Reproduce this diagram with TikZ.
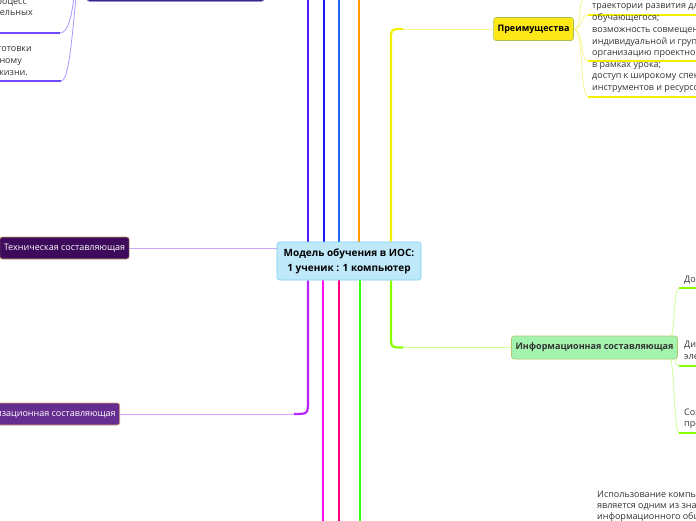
\documentclass[tikz,border=0pt]{standalone}
\usepackage{fontspec}
\setmainfont{Open Sans}
\usepackage{tikz}
\usetikzlibrary{calc,positioning,backgrounds}

\definecolor{rootfill}{HTML}{BFE8F9}
\definecolor{rootline}{HTML}{78CDEF}
\definecolor{techfill}{HTML}{3D0A5C}
\definecolor{techline}{HTML}{C8A060}
\definecolor{techB}{HTML}{C8A8F8}
\definecolor{orgfill}{HTML}{662D91}
\definecolor{orgline}{HTML}{D0A070}
\definecolor{orgA}{HTML}{B822FF}
\definecolor{orgB}{HTML}{E8A0FF}
\definecolor{profill}{HTML}{FFE818}
\definecolor{proline}{HTML}{A8C050}
\definecolor{proA}{HTML}{F2F000}
\definecolor{proB}{HTML}{F6F690}
\definecolor{infofill}{HTML}{A4F4B0}
\definecolor{infoline}{HTML}{B0C870}
\definecolor{infotext}{HTML}{333333}
\definecolor{limeA}{HTML}{88FF00}
\definecolor{limeB}{HTML}{CCFF99}
\definecolor{upfill}{HTML}{2E2384}
\definecolor{upline}{HTML}{6C5CC0}
\definecolor{upA}{HTML}{7048FF}
\definecolor{upB}{HTML}{A898FF}
\definecolor{violA}{HTML}{5018FF}
\definecolor{blueA}{HTML}{1A1AFF}
\definecolor{blueB}{HTML}{1A66FF}
\definecolor{orangeA}{HTML}{FF9900}
\definecolor{magA}{HTML}{FF10F0}
\definecolor{pinkA}{HTML}{FF0088}
\definecolor{greenA}{HTML}{33FF11}
\definecolor{leaftext}{HTML}{333333}

\newcommand{\mmfont}{\fontsize{9}{11.5}\selectfont}

\tikzset{
  topic/.style={draw, rounded corners=2.5pt, line width=0.6pt, inner xsep=4pt, inner ysep=0pt, font=\mmfont},
  leaf/.style={inner sep=0pt, font=\mmfont, text=leaftext},
  trunk/.style={line width=2.2pt},
  twig/.style={line width=0.8pt},
  uline/.style={line width=1.6pt},
}

\begin{document}
\begin{tikzpicture}[x=1pt, y=-1pt]
  \useasboundingbox (0,0) rectangle (696,520);
  \clip (0,0) rectangle (696,520);

  % main topics
  \node[topic, fill=rootfill, draw=rootline, font=\fontsize{10}{15}\selectfont\bfseries, align=center,
        minimum width=144pt, minimum height=38pt] (root) at (349,261) {Модель обучения в ИОС:\\1 ученик : 1 компьютер};
  \node[topic, fill=techfill, draw=techline, text=white, minimum width=129pt, minimum height=22pt] (tech) at (64.5,248) {Техническая составляющая};
  \node[topic, fill=orgfill, draw=orgline, text=white, minimum height=22pt, anchor=east] (org) at (120,414) {Организационная составляющая};
  \node[topic, fill=profill, draw=proline, font=\mmfont\bfseries, minimum width=79pt, minimum height=23pt] (pro) at (533.5,29) {Преимущества};
  \node[topic, fill=infofill, draw=infoline, text=infotext, font=\mmfont\bfseries, minimum width=165pt, minimum height=23pt] (info) at (594.5,347.5) {Информационная составляющая};
  \node[topic, fill=upfill, draw=upline, minimum width=177pt, minimum height=22pt, anchor=south] (upper) at (175.5,1.5) {};

  % leaves left top
  \node[leaf, anchor=base east] (l1) at (27,4.5) {процесс};
  \node[leaf, anchor=base east] (l2) at (33,15.5) {образовательных};
  \node[leaf, anchor=base east] (l3) at (32,51.5) {подготовки};
  \node[leaf, anchor=base east] (l4) at (22,63.5) {самостоятельному};
  \node[leaf, anchor=base east] (l5) at (28,75.5) {жизни.};

  % leaves of Преимущества
  \foreach \yy/\tt in {8.5/траектории развития для, 20.5/обучающегося;, 32.5/возможность совмещения,
                      44/индивидуальной и групповой, 55.5/организацию проектной, 67/в рамках урока;,
                      78.5/доступ к широкому спектру, 90/инструментов и ресурсов}
    \node[leaf, anchor=base west] at (592,\yy) {\tt};

  % leaves of the information topic
  \node[leaf, anchor=base west] (i1) at (684,282.5) {Доступ};
  \node[leaf, anchor=base west] (i2) at (684,347.5) {Дистанционное};
  \node[leaf, anchor=base west] (i3) at (684,359.5) {электронное};
  \node[leaf, anchor=base west] (i4) at (684,415.5) {Создание};
  \node[leaf, anchor=base west] (i5) at (684,426.5) {предметных};

  % note bottom right
  \node[leaf, anchor=base west] (n1) at (597,497.5) {Использование компьютеров};
  \node[leaf, anchor=base west] (n2) at (597,508.5) {является одним из значимых};
  \node[leaf, anchor=base west] (n3) at (597,519.5) {информационного общества};

  \begin{scope}[on background layer]
    % trunks out of the root
    \foreach \xx/\cc in {308/violA, 324/blueA, 339/blueB, 359/orangeA}
      \draw[trunk, \cc] (root.north -| \xx,0) -- (\xx,-5);
    \foreach \xx/\cc in {323/magA, 339/pinkA, 360/greenA}
      \draw[trunk, \cc] (root.south -| \xx,0) -- (\xx,525);

    % Преимущества
    \coordinate (yx) at (391,0);
    \coordinate (pc) at (pro.west -| yx);
    \draw[trunk, proA] (root.north -| yx) -- ($(pc)+(0,12)$) .. controls (pc) .. ($(pc)+(12,0)$);
    \draw[twig, proB] ($(pc)+(12,0)$) -- (pro.west);

    % information topic
    \coordinate (ic) at (info.west -| yx);
    \draw[trunk, limeA] (root.south -| yx) -- ($(ic)+(0,-12)$) .. controls (ic) .. ($(ic)+(12,0)$);
    \draw[twig, limeB] ($(ic)+(12,0)$) -- (info.west);

    % organisational topic
    \coordinate (ox) at (308,0);
    \coordinate (oc) at (org.east -| ox);
    \draw[trunk, orgA] (root.south -| ox) -- ($(oc)+(0,-14)$) .. controls (oc) .. ($(oc)+(-14,0)$);
    \draw[twig, orgB] ($(oc)+(-14,0)$) -- (org.east);

    % technical topic
    \draw[twig, techB] (tech.east) -- (tech.east -| root.west);

    % twigs of Преимущества
    \coordinate (pu0) at (585,-3);
    \coordinate (pu1) at (588,15);
    \coordinate (pu2) at (588,61);
    \coordinate (pu3) at (588,97);
    \foreach \pp in {pu0,pu1,pu2,pu3}
      \draw[twig, proB] (pro.east) .. controls +(10,0) and +(-8,0) .. (\pp);
    \foreach \pp in {pu1,pu2,pu3}
      \draw[uline, proA] (\pp) -- ++(120,0);

    % twigs of the information topic
    \coordinate (ia) at ($(info.east)+(-12,0)$);
    \coordinate (iu1) at (679,288);
    \coordinate (iu2) at (679,366);
    \coordinate (iu3) at (679,433);
    \foreach \pp in {iu1,iu2,iu3} {
      \draw[twig, limeB] (ia) .. controls +(10,0) and +(-6,0) .. (\pp);
      \draw[uline, limeA] (\pp) -- ++(30,0);
    }

    % twigs left top
    \coordinate (lu1) at (60,33);
    \coordinate (lu2) at (61,81);
    \coordinate (lt1) at (74,-3);
    \coordinate (lt2) at (76,-3);
    \draw[twig, upB] (lu1) .. controls +(9,0) and +(-2,15) .. (lt1);
    \draw[twig, upB] (lu2) .. controls +(8,0) and +(-4,40) .. (lt2);
    \draw[uline, upA] (-5,33) -- (lu1);
    \draw[uline, upA] (-5,81) -- (lu2);
  \end{scope}
\end{tikzpicture}
\end{document}
